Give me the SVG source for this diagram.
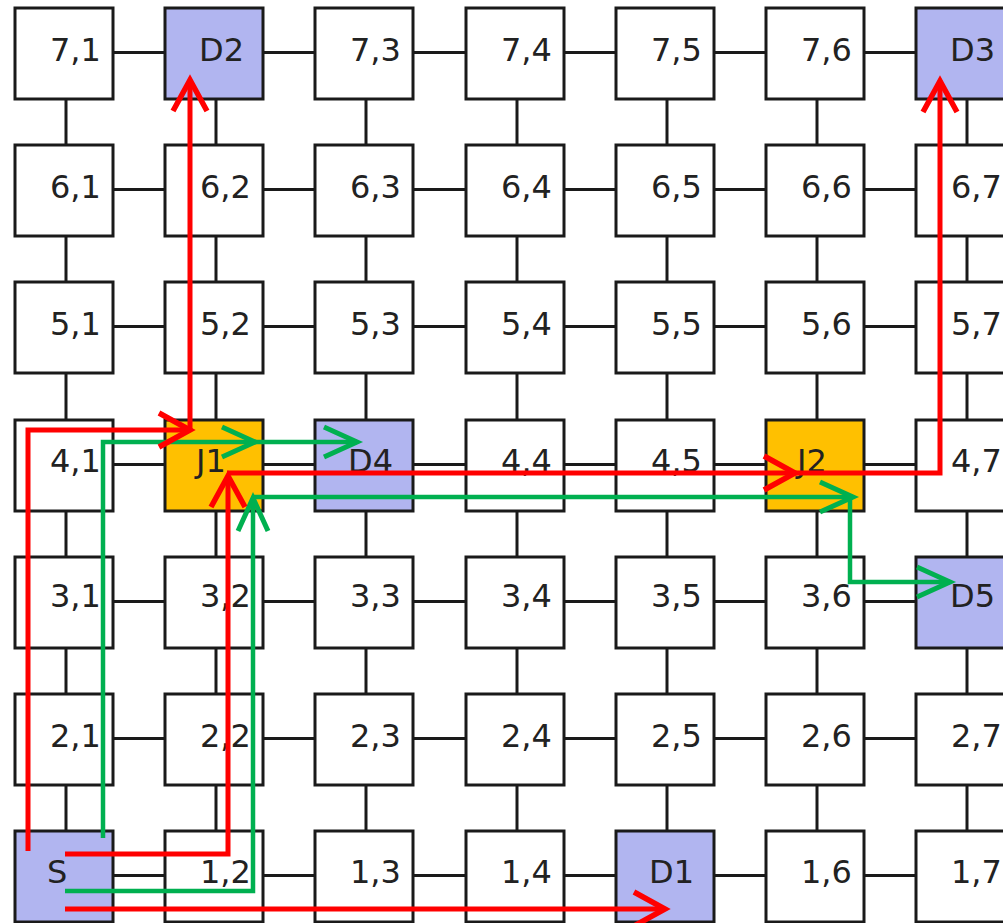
<svg xmlns="http://www.w3.org/2000/svg" width="1003" height="923" viewBox="0 0 1003 923">
<style>
.b{fill:#fff;stroke:#1a1a1a;stroke-width:3}
.d{fill:#B1B5F0;stroke:#1a1a1a;stroke-width:3}
.j{fill:#FFC000;stroke:#1a1a1a;stroke-width:3}
.t{font-family:"DejaVu Sans",Verdana,sans-serif;font-size:32px;fill:#222}
.g{fill:none;stroke:#1a1a1a;stroke-width:3}
.r{fill:none;stroke:#FF0000;stroke-width:5;stroke-linejoin:miter}
.gr{fill:none;stroke:#00B050;stroke-width:4.5;stroke-linejoin:miter}
</style>
<defs>
<marker id="ar" markerUnits="userSpaceOnUse" orient="auto" overflow="visible" markerWidth="1" markerHeight="1" refX="0" refY="0"><path d="M-31,-17 L0,0 L-31,17" fill="none" stroke="#FF0000" stroke-width="5.5"/></marker>
<marker id="ag" markerUnits="userSpaceOnUse" orient="auto" overflow="visible" markerWidth="1" markerHeight="1" refX="0" refY="0"><path d="M-33,-15 L0,0 L-33,15" fill="none" stroke="#00B050" stroke-width="5"/></marker>
</defs>
<g id="grid-connectors">
<path class="g" d="M113,52.5H165M263,52.5H315M413,52.5H466M564,52.5H616M714,52.5H766M864,52.5H916
M113,189.5H165M263,189.5H315M413,189.5H466M564,189.5H616M714,189.5H766M864,189.5H916
M113,326.5H165M263,326.5H315M413,326.5H466M564,326.5H616M714,326.5H766M864,326.5H916
M113,464.5H165M263,464.5H315M413,464.5H466M564,464.5H616M714,464.5H766M864,464.5H916
M113,601.5H165M263,601.5H315M413,601.5H466M564,601.5H616M714,601.5H766M864,601.5H916
M113,738.5H165M263,738.5H315M413,738.5H466M564,738.5H616M714,738.5H766M864,738.5H916
M113,875.5H165M263,875.5H315M413,875.5H466M564,875.5H616M714,875.5H766M864,875.5H916
M66,99V145M66,236V282M66,373V420M66,511V557M66,648V694M66,785V831
M216,99V145M216,236V282M216,373V420M216,511V557M216,648V694M216,785V831
M366,99V145M366,236V282M366,373V420M366,511V557M366,648V694M366,785V831
M517,99V145M517,236V282M517,373V420M517,511V557M517,648V694M517,785V831
M667,99V145M667,236V282M667,373V420M667,511V557M667,648V694M667,785V831
M817,99V145M817,236V282M817,373V420M817,511V557M817,648V694M817,785V831
M967,99V145M967,236V282M967,373V420M967,511V557M967,648V694M967,785V831"/>
</g>
<g id="nodes">
<g id="n7_1"><rect class="b" x="15" y="8" width="98" height="91"/><text class="t" x="50" y="60.5">7,1</text></g>
<g id="n7_2"><rect class="d" x="165" y="8" width="98" height="91"/><text class="t" x="199" y="60.5">D2</text></g>
<g id="n7_3"><rect class="b" x="315" y="8" width="98" height="91"/><text class="t" x="350" y="60.5">7,3</text></g>
<g id="n7_4"><rect class="b" x="466" y="8" width="98" height="91"/><text class="t" x="501" y="60.5">7,4</text></g>
<g id="n7_5"><rect class="b" x="616" y="8" width="98" height="91"/><text class="t" x="651" y="60.5">7,5</text></g>
<g id="n7_6"><rect class="b" x="766" y="8" width="98" height="91"/><text class="t" x="801" y="60.5">7,6</text></g>
<g id="n7_7"><rect class="d" x="916" y="8" width="98" height="91"/><text class="t" x="950" y="60.5">D3</text></g>

<g id="n6_1"><rect class="b" x="15" y="145" width="98" height="91"/><text class="t" x="50" y="197.5">6,1</text></g>
<g id="n6_2"><rect class="b" x="165" y="145" width="98" height="91"/><text class="t" x="200" y="197.5">6,2</text></g>
<g id="n6_3"><rect class="b" x="315" y="145" width="98" height="91"/><text class="t" x="350" y="197.5">6,3</text></g>
<g id="n6_4"><rect class="b" x="466" y="145" width="98" height="91"/><text class="t" x="501" y="197.5">6,4</text></g>
<g id="n6_5"><rect class="b" x="616" y="145" width="98" height="91"/><text class="t" x="651" y="197.5">6,5</text></g>
<g id="n6_6"><rect class="b" x="766" y="145" width="98" height="91"/><text class="t" x="801" y="197.5">6,6</text></g>
<g id="n6_7"><rect class="b" x="916" y="145" width="98" height="91"/><text class="t" x="951" y="197.5">6,7</text></g>

<g id="n5_1"><rect class="b" x="15" y="282" width="98" height="91"/><text class="t" x="50" y="334.5">5,1</text></g>
<g id="n5_2"><rect class="b" x="165" y="282" width="98" height="91"/><text class="t" x="200" y="334.5">5,2</text></g>
<g id="n5_3"><rect class="b" x="315" y="282" width="98" height="91"/><text class="t" x="350" y="334.5">5,3</text></g>
<g id="n5_4"><rect class="b" x="466" y="282" width="98" height="91"/><text class="t" x="501" y="334.5">5,4</text></g>
<g id="n5_5"><rect class="b" x="616" y="282" width="98" height="91"/><text class="t" x="651" y="334.5">5,5</text></g>
<g id="n5_6"><rect class="b" x="766" y="282" width="98" height="91"/><text class="t" x="801" y="334.5">5,6</text></g>
<g id="n5_7"><rect class="b" x="916" y="282" width="98" height="91"/><text class="t" x="951" y="334.5">5,7</text></g>

<g id="n4_1"><rect class="b" x="15" y="420" width="98" height="91"/><text class="t" x="50" y="472">4,1</text></g>
<g id="n4_2"><rect class="j" x="165" y="420" width="98" height="91"/><text class="t" x="196" y="472">J1</text></g>
<g id="n4_3"><rect class="d" x="315" y="420" width="98" height="91"/><text class="t" x="348" y="472">D4</text></g>
<g id="n4_4"><rect class="b" x="466" y="420" width="98" height="91"/><text class="t" x="501" y="472">4,4</text></g>
<g id="n4_5"><rect class="b" x="616" y="420" width="98" height="91"/><text class="t" x="651" y="472">4,5</text></g>
<g id="n4_6"><rect class="j" x="766" y="420" width="98" height="91"/><text class="t" x="797" y="472">J2</text></g>
<g id="n4_7"><rect class="b" x="916" y="420" width="98" height="91"/><text class="t" x="951" y="472">4,7</text></g>

<g id="n3_1"><rect class="b" x="15" y="557" width="98" height="91"/><text class="t" x="50" y="607">3,1</text></g>
<g id="n3_2"><rect class="b" x="165" y="557" width="98" height="91"/><text class="t" x="200" y="607">3,2</text></g>
<g id="n3_3"><rect class="b" x="315" y="557" width="98" height="91"/><text class="t" x="350" y="607">3,3</text></g>
<g id="n3_4"><rect class="b" x="466" y="557" width="98" height="91"/><text class="t" x="501" y="607">3,4</text></g>
<g id="n3_5"><rect class="b" x="616" y="557" width="98" height="91"/><text class="t" x="651" y="607">3,5</text></g>
<g id="n3_6"><rect class="b" x="766" y="557" width="98" height="91"/><text class="t" x="801" y="607">3,6</text></g>
<g id="n3_7"><rect class="d" x="916" y="557" width="98" height="91"/><text class="t" x="950" y="607">D5</text></g>

<g id="n2_1"><rect class="b" x="15" y="694" width="98" height="91"/><text class="t" x="50" y="747">2,1</text></g>
<g id="n2_2"><rect class="b" x="165" y="694" width="98" height="91"/><text class="t" x="200" y="747">2,2</text></g>
<g id="n2_3"><rect class="b" x="315" y="694" width="98" height="91"/><text class="t" x="350" y="747">2,3</text></g>
<g id="n2_4"><rect class="b" x="466" y="694" width="98" height="91"/><text class="t" x="501" y="747">2,4</text></g>
<g id="n2_5"><rect class="b" x="616" y="694" width="98" height="91"/><text class="t" x="651" y="747">2,5</text></g>
<g id="n2_6"><rect class="b" x="766" y="694" width="98" height="91"/><text class="t" x="801" y="747">2,6</text></g>
<g id="n2_7"><rect class="b" x="916" y="694" width="98" height="91"/><text class="t" x="951" y="747">2,7</text></g>

<g id="n1_1"><rect class="d" x="15" y="831" width="98" height="91"/><text class="t" x="47" y="883">S</text></g>
<g id="n1_2"><rect class="b" x="165" y="831" width="98" height="91"/><text class="t" x="200" y="883">1,2</text></g>
<g id="n1_3"><rect class="b" x="315" y="831" width="98" height="91"/><text class="t" x="350" y="883">1,3</text></g>
<g id="n1_4"><rect class="b" x="466" y="831" width="98" height="91"/><text class="t" x="501" y="883">1,4</text></g>
<g id="n1_5"><rect class="d" x="616" y="831" width="98" height="91"/><text class="t" x="649" y="883">D1</text></g>
<g id="n1_6"><rect class="b" x="766" y="831" width="98" height="91"/><text class="t" x="801" y="883">1,6</text></g>
<g id="n1_7"><rect class="b" x="916" y="831" width="98" height="91"/><text class="t" x="951" y="883">1,7</text></g>
</g>
<g id="routes">
<path class="gr" d="M103,838V442H255" marker-end="url(#ag)"/>
<path class="gr" d="M255,442H357" marker-end="url(#ag)"/>
<path class="gr" d="M65,891H253V498" marker-end="url(#ag)"/>
<path class="gr" d="M253,497H853" marker-end="url(#ag)"/>
<path class="gr" d="M850,497V582H950" marker-end="url(#ag)"/>
<path class="r" d="M28,851V430H190" marker-end="url(#ar)"/>
<path class="r" d="M190,430V80" marker-end="url(#ar)"/>
<path class="r" d="M65,854H228V476" marker-end="url(#ar)"/>
<path class="r" d="M227,473H795" marker-end="url(#ar)"/>
<path class="r" d="M795,473H940V81" marker-end="url(#ar)"/>
<path class="r" d="M65,909H665" marker-end="url(#ar)"/>
</g>
</svg>
